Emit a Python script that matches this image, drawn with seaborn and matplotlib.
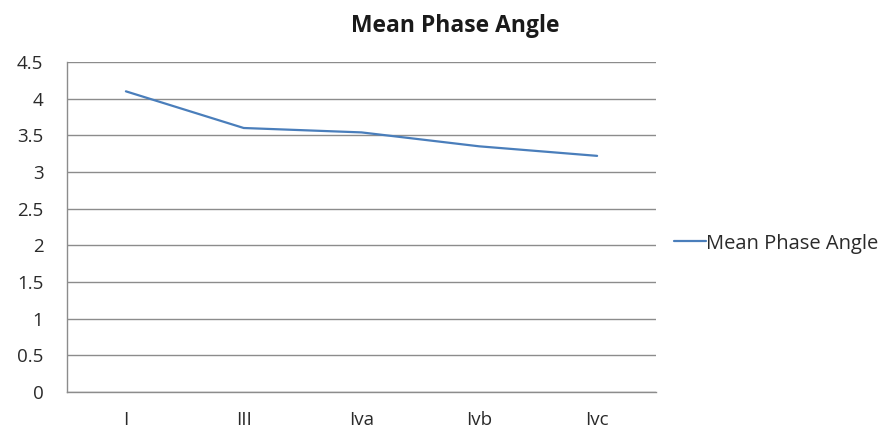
import pandas as pd
import seaborn as sns
import matplotlib.pyplot as plt
from matplotlib.ticker import FixedLocator

# Data
stages = ['I', 'III', 'Iva', 'Ivb', 'Ivc']
mean_phase_angle = [4.10, 3.60, 3.54, 3.35, 3.22]

df = pd.DataFrame({'Stage': stages, 'Mean Phase Angle': mean_phase_angle})

sns.set_style('white')
plt.rcParams['font.family'] = ['Open Sans', 'DejaVu Sans']

fig = plt.figure(figsize=(8.93, 4.28), dpi=100)
ax = fig.add_axes([67 / 893, 1 - 392 / 428, (656 - 67) / 893, (392 - 62) / 428])

sns.lineplot(data=df, x='Stage', y='Mean Phase Angle', ax=ax,
             color='#4A7EBB', linewidth=1.6, label='Mean Phase Angle',
             sort=False)

ax.set_xlim(-0.5, len(stages) - 0.5)
ax.set_ylim(0, 4.5)
ax.set_yticks([i * 0.5 for i in range(10)])
ax.set_yticklabels(['0', '0.5', '1', '1.5', '2', '2.5', '3', '3.5', '4', '4.5'])
ax.yaxis.grid(True, color='#8c8c8c', linewidth=1)
ax.xaxis.grid(False)
ax.set_axisbelow(True)

# Excel-style ticks between categories
ax.xaxis.set_minor_locator(FixedLocator([i - 0.5 for i in range(len(stages) + 1)]))
ax.tick_params(axis='x', which='major', length=0, pad=14, labelsize=13.5)
ax.tick_params(axis='x', which='minor', length=5, color='#8c8c8c', width=1, direction='out')
ax.tick_params(axis='y', which='major', length=5, color='#8c8c8c', width=1,
               direction='out', labelsize=13.5, pad=12)
ax.tick_params(axis='both', labelcolor='#2a2a2a')

for side in ['top', 'right']:
    ax.spines[side].set_visible(False)
for side in ['left', 'bottom']:
    ax.spines[side].set_color('#8c8c8c')
    ax.spines[side].set_linewidth(1)

ax.set_xlabel('')
ax.set_ylabel('')

leg = ax.legend(loc='center left', bbox_to_anchor=(1.0, 0.45), frameon=False,
                fontsize=14.5, handlelength=1.6, handletextpad=0.0)
for txt in leg.get_texts():
    txt.set_color('#2a2a2a')

fig.text(455 / 893, 1 - 26 / 428, 'Mean Phase Angle', ha='center', va='center',
         fontsize=16.5, fontweight='bold', color='#1a1a1a')

fig.savefig('out.png', dpi=100)
